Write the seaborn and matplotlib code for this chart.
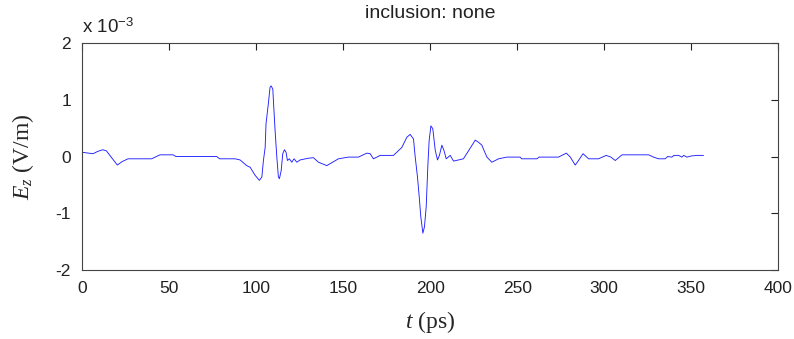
import matplotlib
matplotlib.use("Agg")
import matplotlib.pyplot as plt
import seaborn as sns
import numpy as np
import pandas as pd

# time (ps)
t_ps = [0, 6.3, 9, 11.9, 14, 17, 20.3, 23, 26.4, 40, 44.8, 52.3, 54, 77.4, 79, 87.9,
        90.8, 94.6, 96.6, 99.4, 101.9, 103.3, 104.2, 105.2, 105.7, 107.1, 108.0, 108.6,
        109.6, 110.0, 110.9, 111.9, 112.8, 113.4, 114.4, 115.3, 116.3, 117.2, 118.0,
        119.1, 120.5, 121.8, 123.4, 125.3, 130.0, 132.9, 135.8, 140.6, 147.3, 153.0,
        158.8, 163.6, 165.5, 167.4, 171.3, 178.9, 183.7, 186.6, 188.5, 190.4, 191.4,
        192.7, 193.7, 194.6, 195.8, 196.7, 197.7, 198.7, 199.4, 200.4, 201.5, 202.9,
        204.2, 205.3, 206.7, 208.0, 209.2, 211.5, 213.4, 216.3, 219.1, 222.0, 225.9,
        227.8, 229.7, 230.6, 232.6, 235.4, 239.3, 244.1, 251.7, 252.5, 261.3, 262.5,
        273.7, 278.2, 280.5, 283.3, 285.2, 287.8, 291.0, 296.7, 301.1, 303.8, 306.3,
        310.2, 325.5, 328.3, 331.2, 335.0, 336.4, 338.9, 340.0, 342.7, 344.6, 345.6,
        347.5, 350.0, 353.3, 357.0]
# Ez in units of 1e-3 V/m
ez_milli = [0.075, 0.05, 0.09, 0.12, 0.10, -0.02, -0.15, -0.09, -0.04, -0.04, 0.03, 0.03,
            0.0, 0.0, -0.04, -0.04, -0.06, -0.16, -0.19, -0.33, -0.42, -0.36, -0.07, 0.16,
            0.58, 0.95, 1.22, 1.245, 1.19, 0.95, 0.46, -0.01, -0.36, -0.39, -0.25, 0.05,
            0.12, 0.075, -0.07, -0.04, -0.10, -0.04, -0.10, -0.06, -0.03, -0.02, -0.10,
            -0.16, -0.04, -0.01, -0.01, 0.06, 0.05, -0.04, 0.02, 0.02, 0.16, 0.34, 0.39,
            0.31, -0.01, -0.36, -0.71, -1.06, -1.35, -1.24, -0.89, -0.13, 0.28, 0.54,
            0.49, 0.11, -0.06, 0.02, 0.20, 0.10, -0.04, 0.02, -0.08, -0.06, -0.04, 0.10,
            0.29, 0.25, 0.20, 0.13, -0.01, -0.10, -0.04, -0.01, -0.01, -0.04, -0.04,
            -0.01, -0.01, 0.06, -0.01, -0.15, -0.07, 0.05, -0.04, -0.04, 0.02, -0.01,
            -0.07, 0.03, 0.03, -0.01, -0.04, -0.04, 0.0, -0.01, 0.02, 0.02, -0.01, 0.02,
            -0.01, 0.01, 0.02, 0.02]

x_ticks = [0, 50, 100, 150, 200, 250, 300, 350, 400]
y_ticks = [-2, -1, 0, 1, 2]
title_text = "inclusion: none"

sns.set_theme(style="white")
plt.rcParams['font.family'] = ['Liberation Sans', 'DejaVu Sans']
plt.rcParams['mathtext.fontset'] = 'custom'
plt.rcParams['mathtext.rm'] = 'Liberation Serif'
plt.rcParams['mathtext.it'] = 'Liberation Serif:italic'
plt.rcParams['mathtext.sf'] = 'Liberation Sans'

df = pd.DataFrame({"t": t_ps, "ez": ez_milli})

fig = plt.figure(figsize=(7.94, 3.39), dpi=100)
ax = fig.add_axes([0.1033, 0.2035, 0.877, 0.6695])
sns.lineplot(data=df, x="t", y="ez", ax=ax, color="#2020ff", linewidth=0.65,
             estimator=None, sort=False)

ax.set_xlim(0, 400)
ax.set_ylim(-2, 2)
ax.set_xticks(x_ticks)
ax.set_yticks(y_ticks)
ax.set_xticklabels([str(v) for v in x_ticks])
ax.set_yticklabels([str(v) for v in y_ticks])
ax.tick_params(direction="in", length=5, width=0.8, top=True, right=True,
               labelsize=12.5, colors="#222222")
ax.tick_params(axis="x", pad=8)
ax.tick_params(axis="y", pad=8)
for s in ax.spines.values():
    s.set_color("#444444")
    s.set_linewidth(0.8)
    s.set_visible(True)

ax.set_xlabel(r"$t$ (ps)", family="Liberation Serif", fontsize=17, labelpad=9)
ax.set_ylabel(r"$E_z$ (V/m)", family="Liberation Serif", fontsize=17, labelpad=14)
ax.set_title(title_text, fontsize=14, pad=18, color="#222222")
ax.text(0.0, 1.025, r"x 10$^{\mathsf{-3}}$", transform=ax.transAxes, fontsize=13.5,
        ha="left", va="bottom", color="#222222")

fig.savefig("out.png", dpi=100)
